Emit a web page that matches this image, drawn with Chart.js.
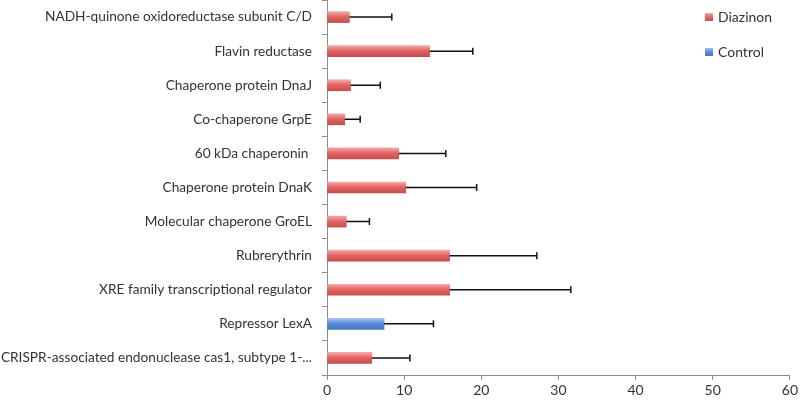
<!DOCTYPE html>
<html lang="en">
<head>
    <meta charset="UTF-8">
    <title>Diazinon vs Control</title>
    <style>
        html, body { margin: 0; padding: 0; background: #fff; }
        #wrap { width: 800px; height: 402px; position: relative; }
    </style>
</head>
<body>
    <div id="wrap">
        <canvas id="myChart" width="800" height="402"></canvas>
    </div>

    <script src="https://cdn.jsdelivr.net/npm/chart.js@4.4.0/dist/chart.umd.min.js"></script>
    <script>
        // values
        var proteins = [
            'NADH-quinone oxidoreductase subunit C/D',
            'Flavin reductase',
            'Chaperone protein DnaJ',
            'Co-chaperone GrpE',
            '60 kDa chaperonin ',
            'Chaperone protein DnaK',
            'Molecular chaperone GroEL',
            'Rubrerythrin',
            'XRE family transcriptional regulator',
            'Repressor LexA',
            'CRISPR-associated endonuclease cas1, subtype 1-...'
        ];
        var diazinon = [2.9, 13.3, 3.05, 2.3, 9.3, 10.2, 2.5, 15.9, 15.9, null, 5.8];
        var control  = [null, null, null, null, null, null, null, null, null, 7.4, null];
        var errPlus  = [5.5, 5.6, 3.85, 2.0, 6.1, 9.2, 3.0, 11.3, 15.7, 6.4, 4.95];
        var xTicks   = [0, 10, 20, 30, 40, 50, 60];

        var FONT = 'Lato, "Open Sans", sans-serif';
        var BAR_H = 11;

        var reds = ['#f3a9a8', '#e46665', '#c64e4d'];
        var blues = ['#a3c0ef', '#5d8fdb', '#4776c0'];

        function barGradient(ctx, colors) {
            var chart = ctx.chart;
            var y = chart.scales.y;
            if (!y || y.top === undefined) return colors[1];
            var cy = y.getPixelForValue(ctx.dataIndex);
            var g = chart.ctx.createLinearGradient(0, cy - BAR_H / 2, 0, cy + BAR_H / 2);
            g.addColorStop(0, colors[0]);
            g.addColorStop(0.45, colors[1]);
            g.addColorStop(1, colors[2]);
            return g;
        }

        // error bars, positive side only
        var errorBars = {
            id: 'errorBars',
            afterDatasetsDraw: function (chart) {
                var ctx = chart.ctx;
                var xs = chart.scales.x, ys = chart.scales.y;
                ctx.save();
                ctx.strokeStyle = '#111';
                ctx.lineWidth = 1.5;
                for (var i = 0; i < proteins.length; i++) {
                    var v = diazinon[i] != null ? diazinon[i] : control[i];
                    var x0 = xs.getPixelForValue(v);
                    var x1 = xs.getPixelForValue(v + errPlus[i]);
                    var y = ys.getPixelForValue(i);
                    ctx.beginPath();
                    ctx.moveTo(x0, y);
                    ctx.lineTo(x1, y);
                    ctx.moveTo(x1, y - 3.5);
                    ctx.lineTo(x1, y + 3.5);
                    ctx.stroke();
                }
                ctx.restore();
            }
        };

        // legend sits inside the plot at the top right
        var sideLegend = {
            id: 'sideLegend',
            afterDraw: function (chart) {
                var ctx = chart.ctx;
                var items = [
                    { label: 'Diazinon', colors: reds, y: 17 },
                    { label: 'Control', colors: blues, y: 52 }
                ];
                ctx.save();
                ctx.font = '14px ' + FONT;
                ctx.textBaseline = 'middle';
                items.forEach(function (it) {
                    var g = ctx.createLinearGradient(0, it.y - 4, 0, it.y + 4);
                    g.addColorStop(0, it.colors[0]);
                    g.addColorStop(0.5, it.colors[1]);
                    g.addColorStop(1, it.colors[2]);
                    ctx.fillStyle = g;
                    ctx.fillRect(705, it.y - 4, 8, 8);
                    ctx.fillStyle = '#333';
                    ctx.fillText(it.label, 718, it.y);
                });
                ctx.restore();
            }
        };

        function createChart() {
            var ctx = document.getElementById('myChart').getContext('2d');
            new Chart(ctx, {
                type: 'bar',
                data: {
                    labels: proteins,
                    datasets: [
                        {
                            label: 'Diazinon',
                            data: diazinon,
                            backgroundColor: function (c) { return barGradient(c, reds); },
                            barThickness: BAR_H
                        },
                        {
                            label: 'Control',
                            data: control,
                            backgroundColor: function (c) { return barGradient(c, blues); },
                            barThickness: BAR_H
                        }
                    ]
                },
                options: {
                    indexAxis: 'y',
                    responsive: false,
                    animation: false,
                    layout: { padding: { left: 0, right: 10, top: 0, bottom: 0 } },
                    plugins: {
                        legend: { display: false },
                        tooltip: { enabled: false }
                    },
                    scales: {
                        x: {
                            stacked: true,
                            min: 0,
                            max: 60,
                            afterBuildTicks: function (s) {
                                s.ticks = xTicks.map(function (v) { return { value: v }; });
                            },
                            afterFit: function (s) { s.height = 27; },
                            border: { color: '#8c8c8c', width: 1 },
                            grid: { drawOnChartArea: false, drawTicks: true, tickLength: 5, color: '#8c8c8c' },
                            ticks: { color: '#333', font: { family: FONT, size: 14 }, padding: 2, maxRotation: 0 }
                        },
                        y: {
                            stacked: true,
                            afterFit: function (s) {
                                s.width = 327;
                                s.paddingTop = 0;
                                s.paddingBottom = 0;
                            },
                            border: { color: '#8c8c8c', width: 1 },
                            grid: { offset: true, drawOnChartArea: false, drawTicks: true, tickLength: 5, color: '#8c8c8c' },
                            ticks: { color: '#333', font: { family: FONT, size: 13.7 }, padding: 10, autoSkip: false }
                        }
                    }
                },
                plugins: [errorBars, sideLegend]
            });
        }
        createChart();
    </script>
</body>
</html>
